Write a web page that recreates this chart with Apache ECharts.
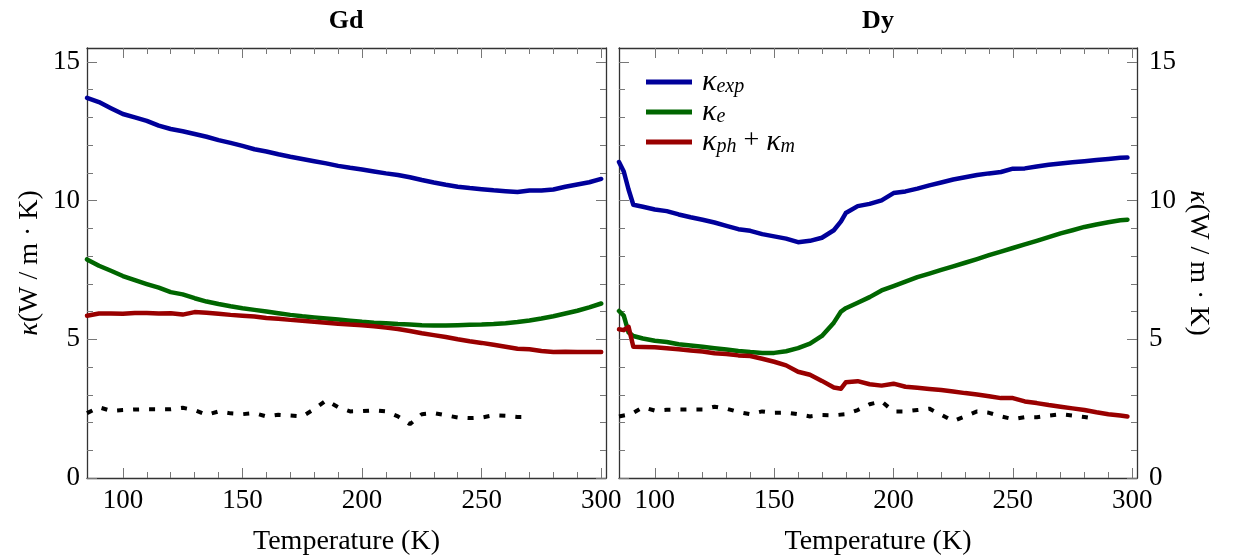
<!DOCTYPE html>
<html>
<head>
<meta charset="utf-8">
<script src="https://cdn.jsdelivr.net/npm/echarts@6/dist/echarts.min.js"></script>
<style>
  html, body { margin: 0; padding: 0; background: #fff; }
  #chart { width: 1239px; height: 557px; }
</style>
</head>
<body>
<div id="chart"></div>
<script>
// Thermal conductivity of Gd and Dy versus temperature (W/m·K)

// --- Gd ---
const gdTemps = [85, 90, 95, 100, 105, 110, 115, 120, 125, 130, 135, 140, 145, 150, 155, 160, 165, 170, 175, 180,
  185, 190, 195, 200, 205, 210, 215, 220, 225, 230, 235, 240, 245, 250, 255, 260, 265, 270, 275, 280,
  285, 290, 295, 300];
const gdKexp = [13.70, 13.55, 13.33, 13.12, 13.00, 12.87, 12.70, 12.58, 12.50, 12.40, 12.30, 12.18, 12.08, 11.97, 11.85, 11.77, 11.67, 11.58, 11.50, 11.42,
  11.34, 11.25, 11.18, 11.12, 11.05, 10.98, 10.92, 10.84, 10.74, 10.65, 10.57, 10.50, 10.45, 10.41, 10.37, 10.34, 10.31, 10.36, 10.36, 10.40,
  10.50, 10.58, 10.66, 10.78];
const gdKe = [7.88, 7.65, 7.47, 7.28, 7.13, 6.99, 6.86, 6.70, 6.62, 6.48, 6.36, 6.27, 6.19, 6.12, 6.06, 6.00, 5.94, 5.88, 5.83, 5.79,
  5.75, 5.71, 5.67, 5.63, 5.60, 5.58, 5.55, 5.53, 5.51, 5.50, 5.50, 5.51, 5.52, 5.53, 5.55, 5.58, 5.62, 5.68, 5.75, 5.83,
  5.93, 6.03, 6.15, 6.29];
const gdKphm = [5.85, 5.93, 5.93, 5.92, 5.95, 5.95, 5.93, 5.94, 5.89, 5.98, 5.96, 5.92, 5.88, 5.85, 5.82, 5.77, 5.74, 5.70, 5.67, 5.63,
  5.60, 5.56, 5.53, 5.51, 5.47, 5.42, 5.37, 5.30, 5.22, 5.15, 5.08, 5.00, 4.93, 4.87, 4.80, 4.73, 4.66, 4.64, 4.58, 4.54,
  4.55, 4.54, 4.54, 4.54];
const gdRefTemps = [85, 90, 95, 100, 105, 110, 115, 120, 125, 130, 135, 140, 145, 150, 155, 160, 165, 170, 175, 180,
  185, 190, 195, 200, 205, 210, 215, 220, 225, 230, 235, 240, 245, 250, 255, 260, 265, 270];
const gdRef = [2.34, 2.55, 2.42, 2.45, 2.47, 2.48, 2.48, 2.48, 2.53, 2.45, 2.28, 2.40, 2.33, 2.30, 2.34, 2.22, 2.28, 2.25, 2.22, 2.48,
  2.80, 2.55, 2.40, 2.41, 2.44, 2.40, 2.22, 1.94, 2.30, 2.34, 2.26, 2.18, 2.16, 2.18, 2.26, 2.24, 2.20, 2.20];

// --- Dy ---
const dyTemps = [85, 87, 89, 91, 95, 100, 105, 110, 115, 120, 125, 130, 135, 140, 145, 150, 155, 160, 165, 170,
  175, 178, 180, 185, 190, 195, 200, 205, 210, 215, 220, 225, 230, 235, 240, 245, 250, 255, 260, 265,
  270, 275, 280, 285, 290, 295, 298];
const dyKexp = [11.39, 11.05, 10.40, 9.85, 9.78, 9.68, 9.62, 9.50, 9.40, 9.31, 9.21, 9.09, 8.97, 8.91, 8.79, 8.71, 8.63, 8.50, 8.55, 8.66,
  8.93, 9.25, 9.55, 9.80, 9.88, 10.01, 10.27, 10.33, 10.43, 10.55, 10.65, 10.76, 10.84, 10.92, 10.98, 11.03, 11.15, 11.16, 11.23, 11.29,
  11.34, 11.38, 11.42, 11.46, 11.50, 11.54, 11.55];
const dyKe = [6.02, 5.85, 5.25, 5.12, 5.03, 4.95, 4.90, 4.82, 4.78, 4.73, 4.68, 4.63, 4.58, 4.54, 4.51, 4.51, 4.57, 4.68, 4.84, 5.12,
  5.60, 6.00, 6.12, 6.32, 6.52, 6.76, 6.92, 7.08, 7.24, 7.37, 7.50, 7.63, 7.76, 7.89, 8.03, 8.16, 8.29, 8.42, 8.55, 8.68,
  8.82, 8.93, 9.05, 9.14, 9.22, 9.29, 9.31];
const dyKphm = [5.36, 5.33, 5.45, 4.73, 4.72, 4.71, 4.68, 4.64, 4.60, 4.56, 4.50, 4.47, 4.42, 4.40, 4.30, 4.19, 4.06, 3.83, 3.72, 3.50,
  3.26, 3.22, 3.45, 3.49, 3.38, 3.33, 3.40, 3.29, 3.25, 3.21, 3.17, 3.12, 3.06, 3.01, 2.95, 2.88, 2.88, 2.76, 2.70, 2.63,
  2.57, 2.51, 2.45, 2.37, 2.30, 2.25, 2.22];
const dyRefTemps = [85, 90, 95, 100, 105, 110, 115, 120, 125, 130, 135, 140, 145, 150, 155, 160, 165, 170, 175, 180,
  185, 190, 195, 200, 205, 210, 215, 220, 225, 230, 235, 240, 245, 250, 255, 260, 265, 270, 275, 280, 283];
const dyRef = [2.22, 2.30, 2.55, 2.43, 2.46, 2.47, 2.47, 2.47, 2.57, 2.50, 2.38, 2.30, 2.40, 2.35, 2.36, 2.30, 2.22, 2.27, 2.26, 2.30,
  2.45, 2.66, 2.76, 2.40, 2.40, 2.45, 2.50, 2.28, 2.05, 2.22, 2.40, 2.35, 2.22, 2.12, 2.19, 2.19, 2.25, 2.30, 2.25, 2.20, 2.16];

// --- ticks ---
const xMajorTicks = [100, 150, 200, 250, 300];
const xMinorTicks = [110, 120, 130, 140, 160, 170, 180, 190, 210, 220, 230, 240, 260, 270, 280, 290];
const yMajorTicks = [0, 5, 10, 15];
const yMinorTicks = [1, 2, 3, 4, 6, 7, 8, 9, 11, 12, 13, 14];

const X_MIN = 85, X_MAX = 302, Y_MIN = 0, Y_MAX = 15.5;
const FONT = 'Liberation Serif';
const LABEL_SIZE = 27;
const NAME_SIZE = 28;
const BOX = { color: '#333', width: 1.3 };
const TICK = { color: '#777', width: 1 };

const pairs = (xs, ys) => xs.map((x, i) => [x, ys[i]]);

function xAxesFor(grid) {
  const base = { type: 'value', gridIndex: grid, min: X_MIN, max: X_MAX, splitLine: { show: false } };
  const axis = (position, major) => Object.assign({}, base, {
    position,
    axisLine: { show: major, onZero: false, lineStyle: BOX },
    axisTick: { show: true, inside: true, length: major ? 10 : 6,
      customValues: major ? xMajorTicks : xMinorTicks, lineStyle: TICK },
    axisLabel: (major && position === 'bottom')
      ? { show: true, customValues: xMajorTicks, margin: 9, color: '#000', fontFamily: FONT, fontSize: LABEL_SIZE }
      : { show: false },
  });
  const bottom = axis('bottom', true);
  bottom.name = 'Temperature (K)';
  bottom.nameLocation = 'middle';
  bottom.nameGap = 50;
  bottom.nameTextStyle = { color: '#000', fontFamily: FONT, fontSize: NAME_SIZE };
  return [bottom, axis('bottom', false), axis('top', true), axis('top', false)];
}

function yAxesFor(grid, labelSide) {
  const base = { type: 'value', gridIndex: grid, min: Y_MIN, max: Y_MAX, splitLine: { show: false } };
  const axis = (position, major) => Object.assign({}, base, {
    position,
    axisLine: { show: major, onZero: false, lineStyle: BOX },
    axisTick: { show: true, inside: true, length: major ? 10 : 6,
      customValues: major ? yMajorTicks : yMinorTicks, lineStyle: TICK },
    axisLabel: (major && position === labelSide)
      ? { show: true, customValues: yMajorTicks, margin: labelSide === 'left' ? 7 : 12,
          color: '#000', fontFamily: FONT, fontSize: LABEL_SIZE }
      : { show: false },
  });
  const left = axis('left', true);
  const right = axis('right', true);
  const named = labelSide === 'left' ? left : right;
  named.name = '{k|κ}(W / m · K)';
  named.nameLocation = 'middle';
  named.nameGap = labelSide === 'left' ? 43 : 47;
  named.nameRotate = labelSide === 'left' ? 90 : -90;
  named.nameTextStyle = {
    color: '#000', fontFamily: FONT, fontSize: NAME_SIZE,
    rich: { k: { fontStyle: 'italic', fontFamily: FONT, fontSize: NAME_SIZE, color: '#000' } }
  };
  return [left, axis('left', false), right, axis('right', false)];
}

const BLUE = '#00009a', GREEN = '#006600', RED = '#990000';

function curve(name, grid, xs, ys, color) {
  return {
    name, type: 'line', xAxisIndex: grid * 4, yAxisIndex: grid * 4,
    data: pairs(xs, ys), showSymbol: false, symbol: 'none', smooth: false,
    lineStyle: { color, width: 4.5, join: 'round', cap: 'round' }, itemStyle: { color },
    z: 3, animation: false
  };
}
function refCurve(grid, xs, ys) {
  return {
    name: 'ref', type: 'line', xAxisIndex: grid * 4, yAxisIndex: grid * 4,
    data: pairs(xs, ys), showSymbol: false, symbol: 'none',
    lineStyle: { color: '#000', width: 4, type: [6, 10] }, itemStyle: { color: '#000' },
    z: 2, animation: false
  };
}

const legendText = {
  exp: '{k|κ}{s|exp}',
  e: '{k|κ}{s|e}',
  phm: '{k|κ}{s|ph}{p| + }{k|κ}{s|m}'
};

const option = {
  backgroundColor: '#fff',
  animation: false,
  title: [
    { text: 'Gd', left: 346, top: 8, textAlign: 'center', padding: 0,
      textStyle: { fontFamily: FONT, fontWeight: 'bold', fontSize: 26, color: '#000' } },
    { text: 'Dy', left: 878, top: 8, textAlign: 'center', padding: 0,
      textStyle: { fontFamily: FONT, fontWeight: 'bold', fontSize: 26, color: '#000' } }
  ],
  grid: [
    { left: 87, top: 48, width: 519, height: 430, containLabel: false, outerBoundsMode: 'none' },
    { left: 619, top: 48, width: 518, height: 430, containLabel: false, outerBoundsMode: 'none' }
  ],
  legend: {
    data: ['κexp', 'κe', 'κph+κm'],
    orient: 'vertical', left: 646, top: 67, padding: 0,
    itemWidth: 46, itemHeight: 5, itemGap: 0, icon: 'rect',
    formatter: n => n === 'κexp' ? legendText.exp : n === 'κe' ? legendText.e : legendText.phm,
    textStyle: {
      color: '#000', fontFamily: FONT, fontSize: 28, padding: [0, 0, 0, 5],
      rich: {
        k: { fontStyle: 'italic', fontFamily: FONT, fontSize: 30, lineHeight: 30, verticalAlign: 'top', color: '#000' },
        p: { fontFamily: FONT, fontSize: 28, lineHeight: 30, verticalAlign: 'top', color: '#000' },
        s: { fontStyle: 'italic', fontFamily: FONT, fontSize: 20, lineHeight: 19, verticalAlign: 'bottom', color: '#000' }
      }
    }
  },
  xAxis: [...xAxesFor(0), ...xAxesFor(1)],
  yAxis: [...yAxesFor(0, 'left'), ...yAxesFor(1, 'right')],
  series: [
    curve('κexp', 0, gdTemps, gdKexp, BLUE),
    curve('κe', 0, gdTemps, gdKe, GREEN),
    curve('κph+κm', 0, gdTemps, gdKphm, RED),
    refCurve(0, gdRefTemps, gdRef),
    curve('κexp', 1, dyTemps, dyKexp, BLUE),
    curve('κe', 1, dyTemps, dyKe, GREEN),
    curve('κph+κm', 1, dyTemps, dyKphm, RED),
    refCurve(1, dyRefTemps, dyRef)
  ]
};

const chart = echarts.init(document.getElementById('chart'), null, { renderer: 'canvas' });
chart.setOption(option);
</script>
</body>
</html>
